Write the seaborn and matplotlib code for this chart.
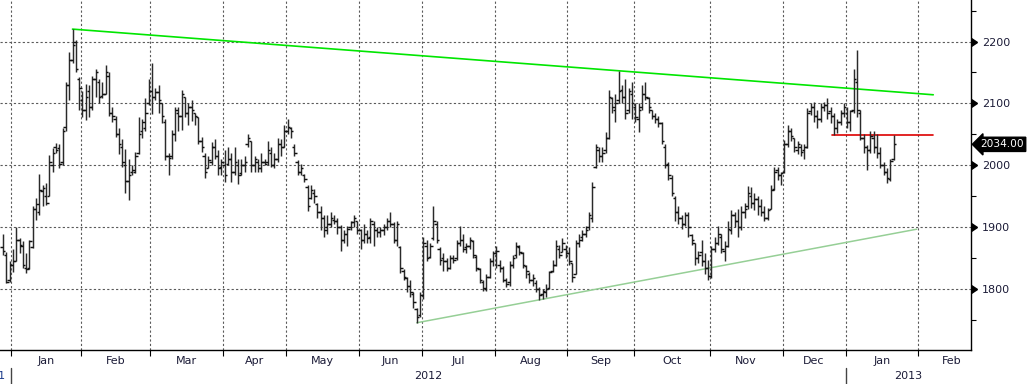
import numpy as np
import matplotlib
matplotlib.use("Agg")
import matplotlib.pyplot as plt
import seaborn as sns
from matplotlib.transforms import blended_transform_factory, offset_copy

# ---------------- data (daily OHLC, Dec 2011 - Jan 2013) ----------------
high = [
    1889, 1860, 1846, 1865, 1901, 1882, 1878, 1858, 1880, 1935,
    1947, 1986, 1968, 1971, 2017, 2028, 2036, 2035, 2060, 2135,
    2183, 2220, 2202, 2143, 2120, 2132, 2130, 2145, 2155, 2140,
    2135, 2162, 2150, 2095, 2080, 2060, 2042, 2027, 2010, 2000,
    2022, 2078, 2075, 2108, 2140, 2165, 2125, 2130, 2100, 2075,
    2020, 2057, 2095, 2095, 2122, 2110, 2100, 2105, 2085, 2078,
    2046, 2020, 2015, 2037, 2043, 2025, 2010, 2025, 2030, 2020,
    2030, 2010, 2010, 2015, 2050, 2040, 2015, 2010, 2020, 2010,
    2040, 2030, 2020, 2045, 2043, 2065, 2075, 2062, 2035, 2008,
    2002, 1986, 1968, 1968, 1962, 1940, 1935, 1920, 1920, 1925,
    1920, 1915, 1903, 1895, 1902, 1910, 1920, 1910, 1898, 1905,
    1895, 1915, 1910, 1900, 1900, 1905, 1915, 1925, 1908, 1910,
    1870, 1832, 1820, 1815, 1795, 1770, 1795, 1885, 1880, 1875,
    1935, 1910, 1868, 1858, 1850, 1855, 1855, 1880, 1902, 1890,
    1875, 1885, 1880, 1855, 1835, 1815, 1825, 1850, 1862, 1870,
    1848, 1838, 1818, 1845, 1855, 1877, 1872, 1860, 1840, 1828,
    1825, 1815, 1803, 1800, 1808, 1830, 1848, 1880, 1872, 1882,
    1872, 1868, 1843, 1880, 1890, 1895, 1902, 1925, 1973, 2035,
    2030, 2030, 2054, 2122, 2110, 2115, 2152, 2130, 2140, 2125,
    2135, 2100, 2100, 2130, 2135, 2110, 2090, 2085, 2080, 2070,
    2035, 2005, 1985, 1950, 1935, 1920, 1925, 1925, 1890, 1875,
    1862, 1880, 1858, 1848, 1870, 1885, 1902, 1890, 1878, 1910,
    1928, 1925, 1930, 1935, 1940, 1966, 1965, 1955, 1950, 1945,
    1934, 1932, 1969, 1998, 1998, 1990, 2041, 2065, 2060, 2045,
    2040, 2035, 2035, 2092, 2100, 2103, 2090, 2100, 2103, 2108,
    2095, 2084, 2075, 2090, 2100, 2095, 2090, 2156, 2187, 2089,
    2050, 2033, 2055, 2055, 2050, 2030, 2005, 1995, 2010, 2049,
]
low = [
    1855, 1810, 1812, 1828, 1846, 1858, 1835, 1826, 1832, 1866,
    1912, 1920, 1934, 1936, 1950, 1990, 2020, 1995, 2000, 2055,
    2105, 2165, 2150, 2090, 2078, 2073, 2078, 2090, 2110, 2100,
    2108, 2115, 2080, 2070, 2046, 2018, 1997, 1955, 1944, 1985,
    1987, 2018, 2045, 2055, 2097, 2083, 2105, 2085, 2068, 2008,
    1985, 2010, 2040, 2055, 2057, 2078, 2065, 2072, 2065, 2035,
    2022, 1980, 1995, 2000, 2010, 1985, 1985, 1973, 2000, 1973,
    1985, 1970, 1985, 1990, 2030, 1990, 1990, 1990, 1990, 2000,
    2000, 1997, 1995, 2005, 2015, 2030, 2050, 2045, 2015, 1984,
    1984, 1973, 1927, 1945, 1940, 1915, 1895, 1885, 1890, 1900,
    1905, 1890, 1862, 1875, 1870, 1895, 1900, 1890, 1865, 1875,
    1875, 1875, 1870, 1885, 1885, 1888, 1895, 1900, 1875, 1870,
    1827, 1815, 1795, 1787, 1770, 1746, 1755, 1785, 1845, 1850,
    1880, 1875, 1840, 1830, 1830, 1832, 1842, 1848, 1870, 1860,
    1858, 1865, 1850, 1830, 1810, 1797, 1798, 1818, 1838, 1835,
    1828, 1812, 1803, 1805, 1835, 1850, 1855, 1835, 1818, 1810,
    1806, 1795, 1782, 1785, 1788, 1800, 1828, 1838, 1850, 1860,
    1850, 1840, 1812, 1825, 1868, 1878, 1885, 1895, 1908, 1995,
    2005, 2005, 2020, 2043, 2085, 2070, 2100, 2100, 2075, 2085,
    2075, 2070, 2054, 2090, 2105, 2085, 2075, 2068, 2062, 2035,
    1995, 1976, 1950, 1910, 1905, 1898, 1902, 1885, 1872, 1840,
    1842, 1837, 1825, 1815, 1818, 1860, 1872, 1858, 1845, 1868,
    1890, 1900, 1885, 1895, 1915, 1930, 1932, 1928, 1920, 1918,
    1910, 1912, 1930, 1960, 1977, 1968, 1987, 2030, 2040, 2022,
    2018, 2015, 2010, 2028, 2082, 2070, 2060, 2070, 2088, 2075,
    2068, 2049, 2052, 2065, 2078, 2060, 2055, 2085, 2078, 2041,
    2020, 1993, 2020, 2020, 2012, 1995, 1985, 1972, 1975, 2009,
]
open_ = [
    1868, 1855, 1815, 1840, 1846, 1880, 1870, 1835, 1835, 1868,
    1930, 1925, 1958, 1950, 1950, 2000, 2030, 2028, 2005, 2062,
    2130, 2170, 2200, 2140, 2105, 2090, 2120, 2095, 2140, 2135,
    2112, 2115, 2145, 2085, 2075, 2050, 2030, 2000, 1975, 1990,
    1990, 2020, 2055, 2060, 2100, 2120, 2110, 2118, 2100, 2070,
    2015, 2015, 2050, 2085, 2080, 2110, 2085, 2095, 2085, 2078,
    2040, 2015, 1995, 2005, 2030, 2015, 1998, 2000, 2002, 2010,
    1990, 2000, 1988, 2000, 2035, 2040, 2000, 2005, 1995, 2005,
    2005, 2020, 2000, 2010, 2035, 2030, 2055, 2060, 2030, 2005,
    1990, 1985, 1965, 1948, 1955, 1938, 1925, 1915, 1900, 1905,
    1912, 1910, 1900, 1880, 1890, 1900, 1908, 1910, 1895, 1880,
    1890, 1885, 1905, 1895, 1892, 1895, 1900, 1910, 1905, 1880,
    1868, 1830, 1818, 1805, 1792, 1768, 1758, 1790, 1870, 1852,
    1882, 1905, 1865, 1850, 1845, 1835, 1850, 1850, 1875, 1880,
    1868, 1870, 1878, 1852, 1832, 1812, 1800, 1820, 1845, 1858,
    1840, 1835, 1815, 1812, 1840, 1855, 1868, 1858, 1838, 1825,
    1815, 1810, 1800, 1792, 1795, 1802, 1830, 1840, 1865, 1860,
    1865, 1858, 1843, 1825, 1875, 1885, 1890, 1900, 1915, 1998,
    2025, 2015, 2025, 2045, 2108, 2090, 2105, 2122, 2110, 2090,
    2115, 2095, 2075, 2095, 2115, 2108, 2090, 2080, 2075, 2068,
    2030, 2002, 1980, 1948, 1925, 1915, 1905, 1920, 1888, 1875,
    1850, 1860, 1845, 1835, 1822, 1865, 1875, 1885, 1862, 1870,
    1895, 1920, 1910, 1900, 1925, 1935, 1950, 1940, 1945, 1935,
    1925, 1915, 1930, 1962, 1992, 1985, 1990, 2035, 2055, 2045,
    2025, 2030, 2025, 2030, 2088, 2095, 2080, 2075, 2095, 2098,
    2088, 2080, 2060, 2070, 2085, 2085, 2070, 2090, 2135, 2085,
    2045, 2030, 2025, 2045, 2030, 2020, 2000, 1990, 1978, 2010,
]
close = [
    1862, 1812, 1840, 1845, 1880, 1872, 1840, 1832, 1878, 1930,
    1938, 1960, 1963, 1940, 2005, 2020, 2025, 2002, 2055, 2130,
    2170, 2195, 2155, 2125, 2090, 2110, 2095, 2140, 2150, 2110,
    2115, 2150, 2085, 2080, 2050, 2035, 2005, 1975, 1985, 1992,
    2015, 2050, 2070, 2085, 2120, 2110, 2118, 2105, 2080, 2015,
    2012, 2050, 2090, 2080, 2115, 2085, 2095, 2090, 2080, 2040,
    2030, 1990, 2008, 2030, 2015, 1995, 2005, 1985, 2010, 1990,
    2005, 1985, 2000, 2005, 2045, 2000, 2010, 1995, 2005, 2002,
    2025, 2000, 2010, 2035, 2030, 2055, 2062, 2055, 2020, 1990,
    1995, 1978, 1935, 1960, 1950, 1925, 1915, 1895, 1905, 1915,
    1910, 1900, 1880, 1890, 1898, 1908, 1915, 1895, 1880, 1890,
    1883, 1910, 1895, 1892, 1895, 1900, 1910, 1905, 1880, 1905,
    1835, 1820, 1805, 1795, 1780, 1755, 1790, 1875, 1850, 1870,
    1910, 1880, 1848, 1845, 1835, 1850, 1848, 1875, 1880, 1865,
    1870, 1880, 1855, 1835, 1815, 1802, 1820, 1845, 1858, 1862,
    1835, 1815, 1808, 1840, 1850, 1870, 1860, 1840, 1830, 1815,
    1818, 1800, 1790, 1797, 1800, 1828, 1840, 1870, 1855, 1875,
    1858, 1845, 1820, 1875, 1880, 1890, 1895, 1920, 1965, 2030,
    2015, 2020, 2045, 2110, 2095, 2100, 2120, 2110, 2085, 2120,
    2100, 2078, 2090, 2115, 2110, 2095, 2080, 2075, 2068, 2040,
    2000, 1985, 1955, 1925, 1915, 1905, 1920, 1900, 1880, 1850,
    1855, 1845, 1835, 1822, 1865, 1875, 1890, 1865, 1870, 1898,
    1920, 1910, 1900, 1925, 1930, 1955, 1940, 1945, 1935, 1925,
    1915, 1928, 1960, 1990, 1985, 1988, 2035, 2055, 2048, 2030,
    2035, 2022, 2030, 2085, 2095, 2080, 2075, 2095, 2098, 2085,
    2080, 2060, 2070, 2085, 2095, 2070, 2088, 2140, 2090, 2045,
    2030, 2025, 2048, 2030, 2020, 2000, 1990, 1980, 2007, 2034,
]

dec2011_days = 3
month_labels = ["Jan", "Feb", "Mar", "Apr", "May", "Jun", "Jul", "Aug",
                "Sep", "Oct", "Nov", "Dec", "Jan", "Feb"]
month_days = [21, 21, 22, 19, 22, 19, 22, 22, 20, 23, 22, 19, 22, 20]
year_labels = ["2011", "2012", "2013"]
y_major = [1800, 1900, 2000, 2100, 2200]
y_minor = [1750, 1850, 1950, 2050, 2150, 2250]

upper_trend_x = [21, 281]
upper_trend_y = [2220, 2114]
lower_trend_x = [125, 276]
lower_trend_y = [1746, 1897]
level_x = [250.5, 281]
level_y = [2049, 2049]
last_price = 2034.00

n = len(high)
assert len(low) == n and len(open_) == n and len(close) == n

# ---------------- style ----------------
sns.set_theme(style="white")
plt.rcParams["font.family"] = ["DejaVu Sans"]
txt_color = "#1c1c38"

fig = plt.figure(figsize=(10.28, 3.84), dpi=100)
ax = fig.add_axes([0.0, 34 / 384, 971 / 1028, 350 / 384])

x = np.arange(n)
starts = dec2011_days + np.concatenate([[0], np.cumsum(month_days)])
bounds = starts[:-1] - 0.5
mids = (starts[:-1] + starts[1:]) / 2 - 0.5

xl = (-0.9, 292.4)
ax.set_xlim(*xl)
ax.set_ylim(1702, 2267)

# grid
for b in bounds:
    ax.axvline(b, color="#5a5a5a", lw=0.8, ls=(0, (2, 2)), zorder=0)
for yv in y_major:
    ax.axhline(yv, color="#5a5a5a", lw=0.8, ls=(0, (2, 2)), zorder=0)

# trend lines
sns.lineplot(x=upper_trend_x, y=upper_trend_y, ax=ax, color="#00e600", lw=1.2, zorder=3)
sns.lineplot(x=lower_trend_x, y=lower_trend_y, ax=ax, color="#96cf96", lw=1.1, zorder=3)
sns.lineplot(x=level_x, y=level_y, ax=ax, color="#dd0000", lw=1.2, zorder=3)

# OHLC bars
ax.vlines(x, low, high, color="#2a2a2a", lw=1.05, zorder=4)
ax.hlines(open_, x - 0.75, x, color="#111111", lw=1.05, zorder=4)
ax.hlines(close, x, x + 0.75, color="#111111", lw=1.05, zorder=4)

# spines
for s in ["top", "left"]:
    ax.spines[s].set_visible(False)
for s in ["right", "bottom"]:
    ax.spines[s].set_visible(True)
    ax.spines[s].set_color("black")
    ax.spines[s].set_linewidth(1.0)

# x axis
ax.set_xticks(bounds)
ax.set_xticklabels([])
ax.tick_params(axis="x", which="major", direction="out", length=4, width=0.8,
               color="black", bottom=True)
xt = ax.get_xaxis_transform()
for m, lab in zip(mids, month_labels):
    if xl[0] < m < xl[1]:
        ax.text(m, -11 / 350, lab, transform=xt, ha="center", va="center",
                fontsize=8, color=txt_color, clip_on=False)
year_start_2012 = bounds[0]
year_start_2013 = bounds[12]
ax.text((year_start_2012 + year_start_2013) / 2, -26 / 350, year_labels[1],
        transform=xt, ha="center", va="center", fontsize=8, color=txt_color)
ax.text((year_start_2013 + xl[1]) / 2, -26 / 350, year_labels[2],
        transform=xt, ha="center", va="center", fontsize=8, color=txt_color)
t2011 = offset_copy(xt, fig=fig, x=-6, y=0, units="dots")
ax.text(year_start_2012, -26 / 350, year_labels[0], transform=t2011,
        ha="right", va="center", fontsize=8, color="#1a3a8a")
for yb in [year_start_2012, year_start_2013]:
    ax.plot([yb, yb], [-18 / 350, -34 / 350], transform=xt, color="#444444",
            lw=1.0, clip_on=False)

# y axis on right
ax.yaxis.tick_right()
ax.set_yticks(y_major)
ax.set_yticklabels([str(v) for v in y_major])
ax.set_yticks(y_minor, minor=True)
ax.tick_params(axis="y", which="major", length=0, pad=8, labelsize=8,
               labelcolor=txt_color, right=True, left=False)
ax.tick_params(axis="y", which="minor", length=3.5, width=0.8, color="black",
               direction="out", right=True, left=False)
yt = blended_transform_factory(ax.transAxes, ax.transData)
ax.plot([1.0] * len(y_major), y_major, transform=yt, ls="none", marker=9,
        ms=6, color="black", clip_on=False, zorder=6)

# last price tag
ax.text(1.0, last_price, f"{last_price:.2f}",
        transform=offset_copy(yt, fig=fig, x=9, y=0, units="dots"),
        ha="left", va="center", fontsize=7.6, color="white", clip_on=False,
        bbox=dict(boxstyle="larrow,pad=0.2", fc="black", ec="black"))

ax.grid(False)
fig.savefig("out.png", dpi=100)
